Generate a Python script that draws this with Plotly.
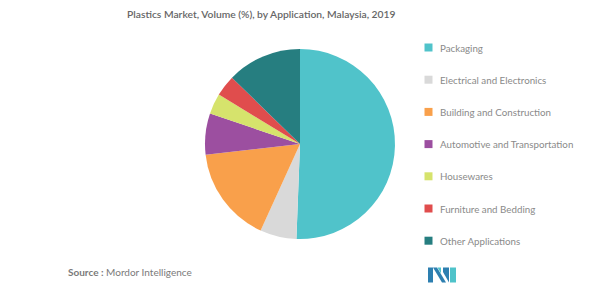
import plotly.graph_objects as go

labels = ["Packaging", "Electrical and Electronics", "Building and Construction",
          "Automotive and Transportation", "Housewares", "Furniture and Bedding",
          "Other Applications"]
values = [50.6, 6.2, 16.4, 7.0, 3.5, 3.6, 12.7]
colors = ["#50C3CA", "#D9D9D9", "#F9A04B", "#9C4FA0", "#D6E36C", "#E04D4D", "#267E80"]

W, H = 600, 288

def px(x):
    return x / W

def py(y):
    return 1 - y / H

fig = go.Figure()
fig.add_trace(go.Pie(
    labels=labels, values=values, sort=False, direction="clockwise", rotation=0,
    marker=dict(colors=colors, line=dict(width=0)),
    textinfo="none", hoverinfo="label+percent", showlegend=False,
    domain=dict(x=[px(205), px(395)], y=[py(239), py(49)]),
))

annotations = []
shapes = []
legend_y0, legend_dy = 47.5, 32.2
for i, (lab, col) in enumerate(zip(labels, colors)):
    yc = legend_y0 + i * legend_dy
    shapes.append(dict(type="rect", xref="paper", yref="paper",
                       x0=px(424.5), x1=px(432.5), y0=py(yc + 4), y1=py(yc - 4),
                       fillcolor=col, line=dict(width=0)))
    annotations.append(dict(text=lab, xref="paper", yref="paper", x=px(437.5), y=py(yc),
                            xanchor="left", yanchor="middle", showarrow=False,
                            font=dict(family="Lato", size=9.75, color="#8A8A8A")))

annotations.append(dict(text="Plastics Market, Volume (%), by Application, Malaysia, 2019",
                        xref="paper", yref="paper", x=px(261.5), y=py(13.5),
                        xanchor="center", yanchor="middle", showarrow=False,
                        font=dict(family="Lato", size=10.3, color="#666666", weight=600)))
annotations.append(dict(text="<b>Source :</b> Mordor Intelligence",
                        xref="paper", yref="paper", x=px(65.5), y=py(271.5),
                        xanchor="left", yanchor="middle", showarrow=False,
                        font=dict(family="Lato", size=10, color="#7A7A7A")))

# logo
def poly(pts, col):
    d = "M " + " L ".join(f"{px(x)},{py(y)}" for x, y in pts) + " Z"
    return dict(type="path", xref="paper", yref="paper", path=d,
                fillcolor=col, line=dict(width=0))

shapes += [
    poly([(428, 267.5), (433, 267.5), (433, 282.5), (428, 282.5)], "#2D7FB0"),
    poly([(433, 267.5), (437, 267.5), (446, 282.5), (442, 282.5)], "#2D7FB0"),
    poly([(437.5, 267.5), (441, 267.5), (441, 273.5)], "#4FC3CA"),
    poly([(443, 267.5), (449, 267.5), (449, 282.5), (443, 272)], "#2D7FB0"),
    poly([(450, 267.5), (456, 267.5), (456, 282.5), (450, 282.5)], "#4FC3CA"),
]

fig.update_layout(
    width=W, height=H, margin=dict(l=0, r=0, t=0, b=0),
    paper_bgcolor="white", plot_bgcolor="white",
    annotations=annotations, shapes=shapes,
)

fig.write_html("out.html")
